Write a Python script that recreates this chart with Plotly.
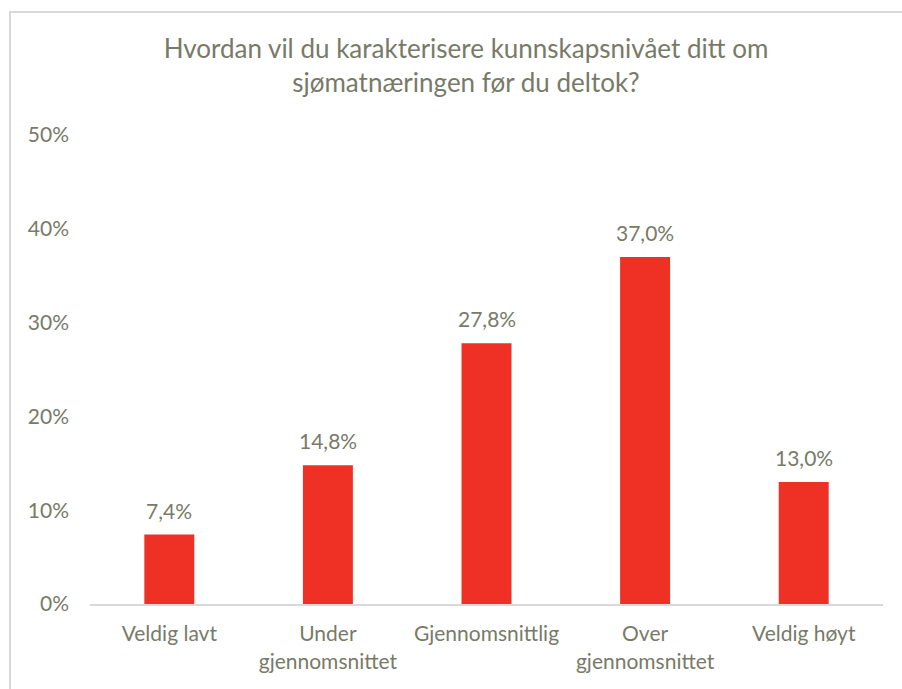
import plotly.graph_objects as go

categories = ["Veldig lavt", "Under<br>gjennomsnittet", "Gjennomsnittlig", "Over<br>gjennomsnittet", "Veldig høyt"]
values = [7.4, 14.8, 27.8, 37.0, 13.0]
tick_vals = [0, 10, 20, 30, 40, 50]
tick_text = ["0%", "10%", "20%", "30%", "40%", "50%"]

TXT = "#787A68"
FONT = "Lato"

W, H = 902, 689
L = 90
T = 135
R = W - 883
B = H - 604
pw, ph = W - L - R, H - T - B

def px(x):
    return (x - L) / pw

def py(y):
    return (H - B - y) / ph

fig = go.Figure()
fig.add_trace(go.Bar(
    x=categories, y=values,
    marker=dict(color="#EE3124", line=dict(width=0)),
    width=0.315,
    cliponaxis=False,
))

for c, v in zip(categories, values):
    fig.add_annotation(
        x=c, y=v, xref="x", yref="y",
        text=f"{v:.1f}".replace(".", ",") + "%",
        showarrow=False, yanchor="bottom", yshift=10,
        font=dict(family=FONT, size=21, color=TXT),
    )

fig.update_layout(
    width=W, height=H,
    margin=dict(l=L, r=R, t=T, b=B),
    paper_bgcolor="white", plot_bgcolor="white",
    showlegend=False,
    font=dict(family=FONT, color=TXT),
    title=dict(
        text="Hvordan vil du karakterisere kunnskapsnivået ditt om<br>sjømatnæringen før du deltok?",
        x=466 / W, xanchor="center", y=1 - 58 / H, yanchor="middle",
        xref="container", yref="container",
        font=dict(family=FONT, size=26, color=TXT),
    ),
    xaxis=dict(
        showline=True, linecolor="#D9D9D9", linewidth=2,
        ticks="", showgrid=False,
        tickfont=dict(family=FONT, size=21, color=TXT),
        ticklabelstandoff=10,
    ),
    yaxis=dict(
        range=[0, 50], tickvals=tick_vals, ticktext=tick_text,
        showgrid=False, zeroline=False, showline=False, ticks="",
        tickfont=dict(family=FONT, size=21, color=TXT),
        ticklabelstandoff=20,
    ),
    shapes=[
        dict(type="line", xref="paper", yref="paper", x0=px(10), x1=px(10), y0=py(11), y1=py(689),
             line=dict(color="#D9D9D9", width=2)),
        dict(type="line", xref="paper", yref="paper", x0=px(9), x1=px(902), y0=py(12), y1=py(12),
             line=dict(color="#D9D9D9", width=2)),
    ],
)

fig.write_html(
    "out.html",
    config={"displayModeBar": False},
    post_script="document.documentElement.style.overflow='hidden';document.body.style.margin='0';document.body.style.overflow='hidden';",
)
